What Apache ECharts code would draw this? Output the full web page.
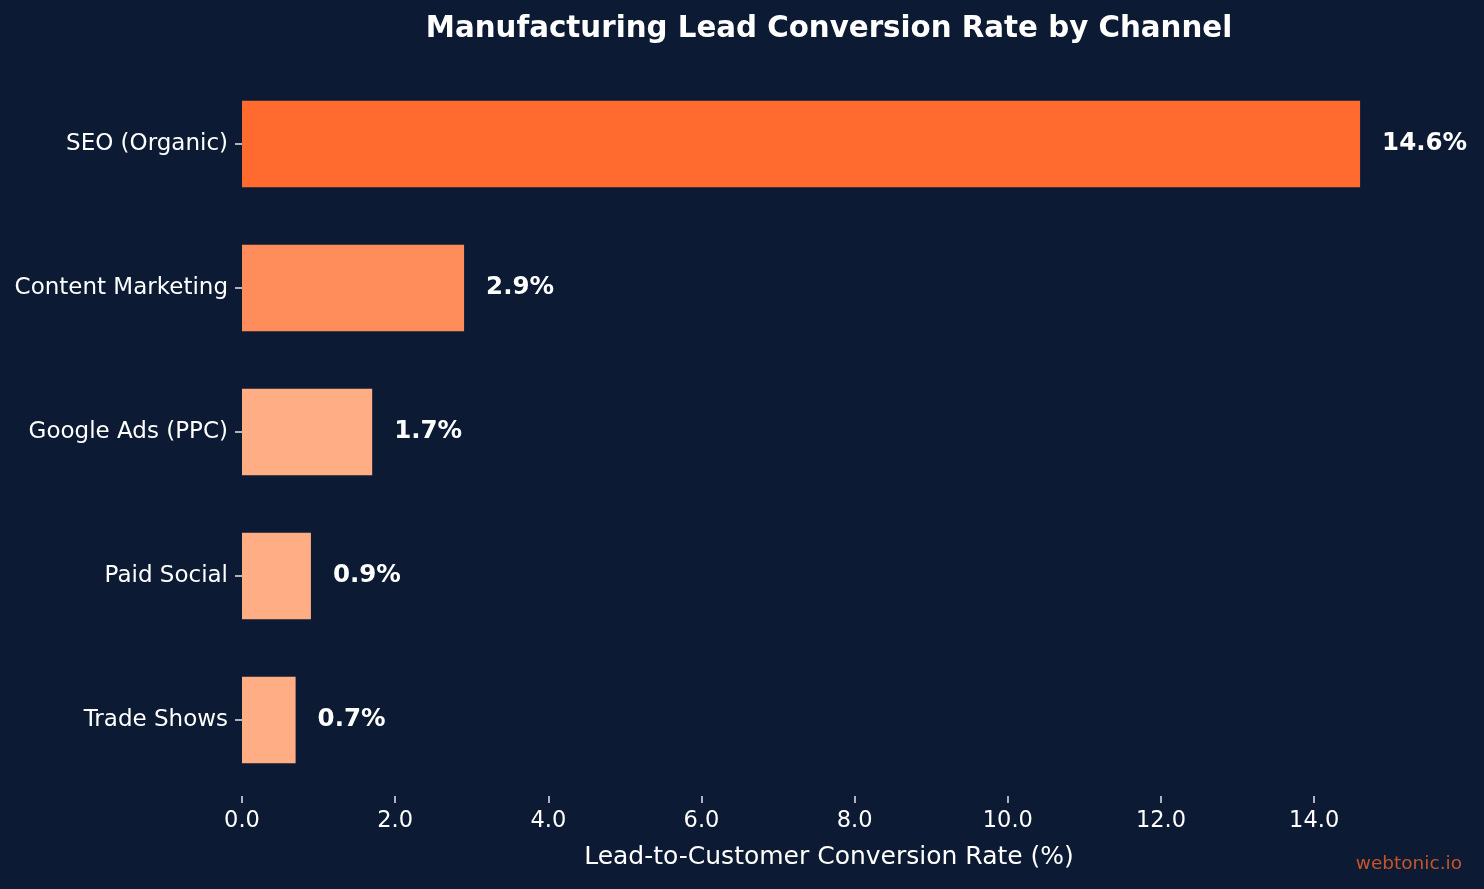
<!DOCTYPE html>
<html>
<head>
<meta charset="utf-8">
<script src="https://cdn.jsdelivr.net/npm/echarts@6/dist/echarts.min.js"></script>
<style>
  html, body { margin: 0; padding: 0; background: #0c1b33; }
</style>
</head>
<body>
<div id="chart" style="width:1484px;height:889px;"></div>
<script>
// channels listed bottom to top, as the category axis draws them
var channels = ['Trade Shows', 'Paid Social', 'Google Ads (PPC)', 'Content Marketing', 'SEO (Organic)'];
var rates = [0.7, 0.9, 1.7, 2.9, 14.6];
var barColors = ['#ffad85', '#ffad85', '#ffad85', '#ff8c5a', '#ff6b2e'];
var xTicks = [0, 2, 4, 6, 8, 10, 12, 14];

var chart = echarts.init(document.getElementById('chart'));
var font = 'DejaVu Sans';

chart.setOption({
    backgroundColor: '#0c1b33',
    animation: false,
    title: {
        text: 'Manufacturing Lead Conversion Rate by Channel',
        left: 824,
        top: 10,
        textAlign: 'center',
        textStyle: { color: '#ffffff', fontFamily: font, fontSize: 29.3, fontWeight: 'bold' }
    },
    graphic: [{
        type: 'text',
        right: 22,
        top: 855,
        style: { text: 'webtonic.io', fill: '#c4542b', font: '18.5px "DejaVu Sans"' }
    }],
    grid: { left: 242, right: 68, top: 72, bottom: 97, containLabel: false },
    xAxis: {
        type: 'value',
        min: 0,
        max: 15.33,
        offset: 4,
        name: 'Lead-to-Customer Conversion Rate (%)',
        nameLocation: 'middle',
        nameGap: 49,
        nameTextStyle: { color: '#ffffff', fontFamily: font, fontSize: 25 },
        axisLine: { show: false },
        axisTick: { show: true, customValues: xTicks, length: 7, lineStyle: { color: '#e6e6e6', width: 1.5 } },
        axisLabel: {
            customValues: xTicks,
            color: '#ffffff', fontFamily: font, fontSize: 22.5, margin: 14,
            formatter: function (v) { return v.toFixed(1); }
        },
        splitLine: { show: false }
    },
    yAxis: {
        type: 'category',
        data: channels,
        axisLine: { show: false },
        axisTick: { show: true, alignWithLabel: true, length: 7, lineStyle: { color: '#e6e6e6', width: 1.5 } },
        axisLabel: { color: '#ffffff', fontFamily: font, fontSize: 23, margin: 14, padding: [4, 0, 0, 0] },
        splitLine: { show: false }
    },
    series: [{
        type: 'bar',
        barWidth: '60%',
        data: rates.map(function (v, i) {
            return { value: v, itemStyle: { color: barColors[i] } };
        }),
        label: {
            show: true,
            position: 'right',
            distance: 22,
            color: '#ffffff',
            fontFamily: font,
            fontSize: 24.5,
            fontWeight: 'bold',
            padding: [4, 0, 0, 0],
            formatter: function (p) { return p.value.toFixed(1) + '%'; }
        }
    }]
});
</script>
</body>
</html>
